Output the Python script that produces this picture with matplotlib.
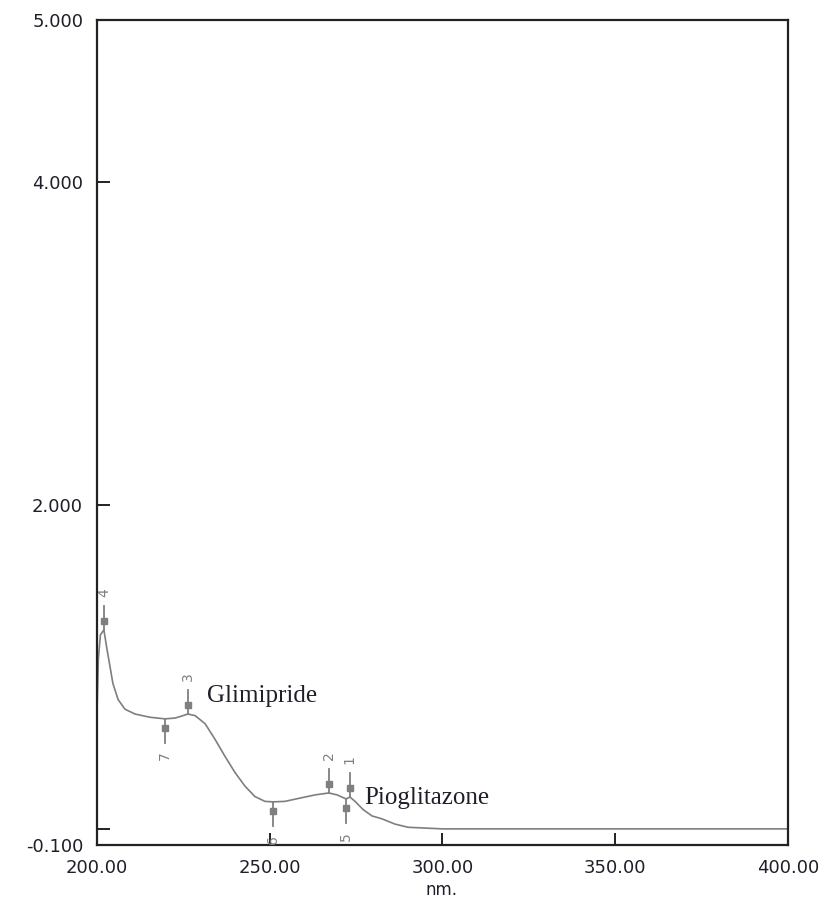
import numpy as np
import matplotlib
matplotlib.use("Agg")
import matplotlib.pyplot as plt

# absorbance spectrum (nm, Abs)
wavelength = [200.0, 200.4, 201.0, 202.0, 202.9, 203.8, 204.6, 206.1, 208.1, 211.0,
              215.3, 219.7, 222.6, 224.9, 226.3, 228.4, 231.3, 234.1, 237.0, 239.9,
              242.8, 245.7, 248.6, 250.9, 254.4, 258.7, 263.1, 267.1, 269.5, 272.1,
              273.2, 274.7, 277.0, 279.6, 282.5, 286.2, 290.0, 300.0, 350.0, 400.0]
absorbance = [0.72, 1.05, 1.20, 1.23, 1.11, 1.00, 0.90, 0.80, 0.74, 0.71,
              0.69, 0.68, 0.685, 0.70, 0.71, 0.70, 0.65, 0.556, 0.45, 0.35,
              0.265, 0.20, 0.17, 0.167, 0.17, 0.19, 0.21, 0.222, 0.21, 0.185,
              0.197, 0.17, 0.12, 0.08, 0.062, 0.03, 0.01, 0.0, 0.0, 0.0]

peak_nm = [273.2, 267.1, 226.3, 202.0]
peak_labels = ["1", "2", "3", "4"]
valley_nm = [272.1, 250.9, 219.7]
valley_labels = ["5", "6", "7"]

x_ticks = [200, 250, 300, 350, 400]
x_ticklabels = ["200.00", "250.00", "300.00", "350.00", "400.00"]
y_ticks = [-0.1, 0.0, 2.0, 4.0, 5.0]
y_ticklabels = ["-0.100", "", "2.000", "4.000", "5.000"]

gray = "#7f7f7f"
ink = "#1f1f2a"

fig = plt.figure(figsize=(8.26, 8.99), dpi=100)
ax = fig.add_axes([0.1174, 0.06, 0.8366, 0.9178])

ax.plot(wavelength, absorbance, color=gray, lw=1.2, zorder=2)

tick_len = 0.15
sq_off = 0.055
lab_off = 0.23
for nm, lab in zip(peak_nm, peak_labels):
    y = np.interp(nm, wavelength, absorbance)
    ax.plot([nm, nm], [y, y + tick_len], color=gray, lw=1.3)
    ax.plot(nm, y + sq_off, marker="s", ms=4, color=gray)
    ax.text(nm, y + lab_off, lab, rotation=90, ha="center", va="center",
            fontsize=10, color=gray, family="DejaVu Sans")
for nm, lab in zip(valley_nm, valley_labels):
    y = np.interp(nm, wavelength, absorbance)
    ax.plot([nm, nm], [y, y - tick_len], color=gray, lw=1.3)
    ax.plot(nm, y - sq_off, marker="s", ms=4, color=gray)
    ax.text(nm, y - lab_off, lab, rotation=90, ha="center", va="center",
            fontsize=10, color=gray, family="DejaVu Sans")

ax.text(231.8, 0.82, "Glimipride", fontsize=18, family="Liberation Serif",
        color=ink, va="center", ha="left")
ax.text(277.3, 0.19, "Pioglitazone", fontsize=18, family="Liberation Serif",
        color=ink, va="center", ha="left")

ax.set_xlim(200, 400)
ax.set_ylim(-0.1, 5.0)
ax.set_xticks(x_ticks)
ax.set_xticklabels(x_ticklabels)
ax.set_yticks(y_ticks)
ax.set_yticklabels(y_ticklabels)
ax.tick_params(direction="in", length=9, width=1.4, color="#222222",
               labelsize=13, labelcolor=ink, labelfontfamily="DejaVu Sans")
ax.tick_params(axis="y", pad=10)
ax.tick_params(axis="x", pad=10)
for s in ax.spines.values():
    s.set_linewidth(1.6)
    s.set_color("#222222")

fig.text(0.535, 0.0, "nm.", fontsize=12, family="DejaVu Sans", color=ink,
         ha="center", va="bottom")

fig.savefig("out.png", dpi=100)
